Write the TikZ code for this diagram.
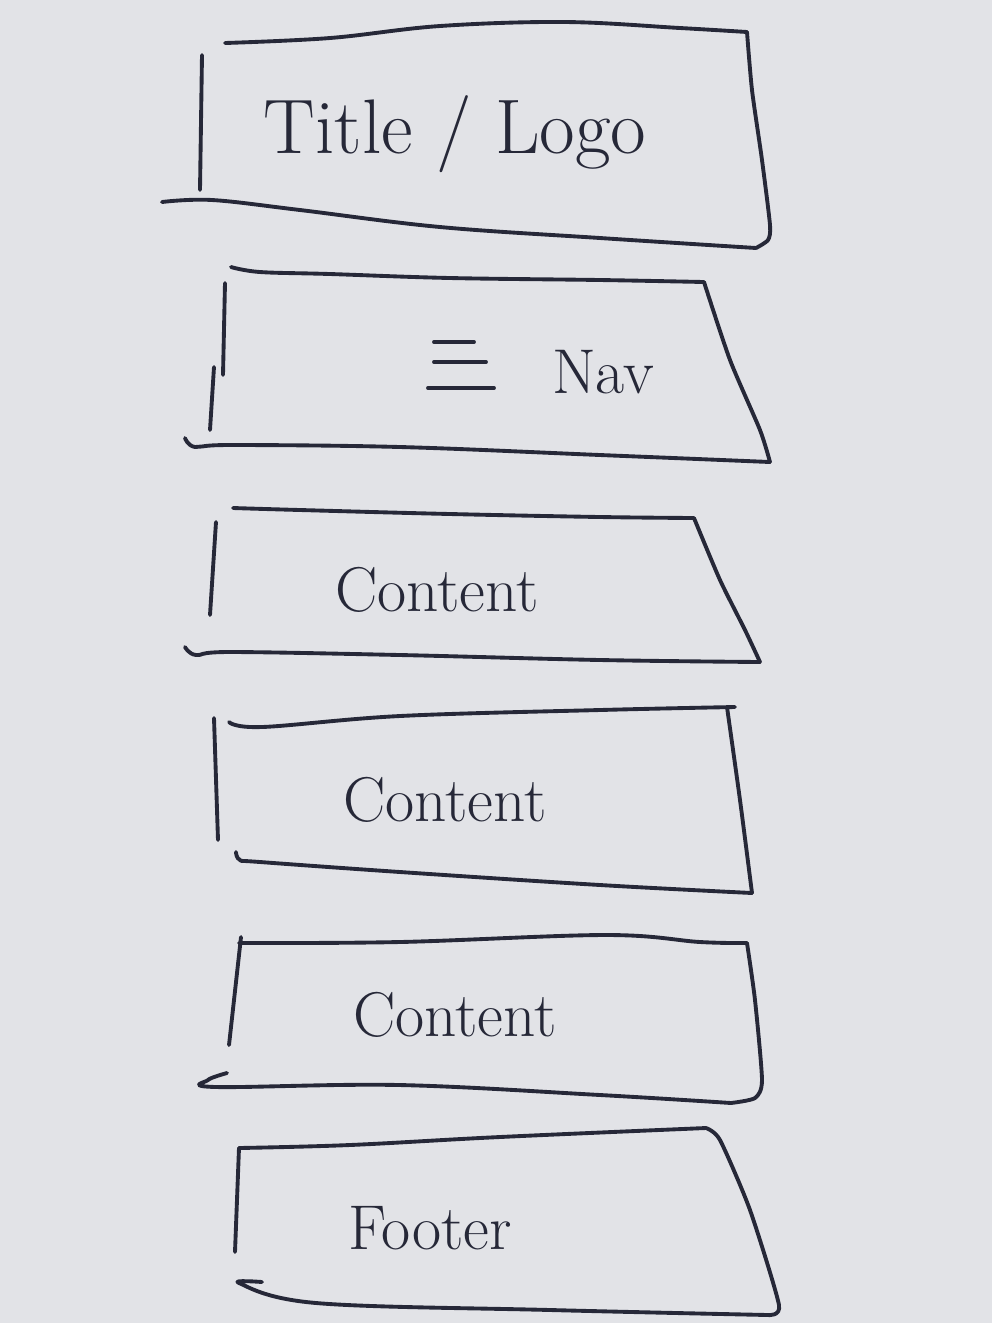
\documentclass[tikz,border=0pt]{standalone}
\usepackage{tikz}
\usetikzlibrary{positioning}
\definecolor{paper}{RGB}{226,227,231}
\definecolor{pen}{RGB}{38,40,56}

\begin{document}
\begin{tikzpicture}[x=0.01cm, y=-0.01cm,
        ink/.style={draw=pen, line width=1.1pt, line cap=round, line join=round},
        scrawl/.style={text=pen, font=\fontsize{18}{22}\selectfont}]
    \fill [paper] (0,0) rectangle (992,1323);
    \useasboundingbox (0,0) rectangle (992,1323);

    % title / logo
    \draw [ink] plot [smooth, tension=.6] coordinates {(225,43) (330,38) (440,26) (565,22) (680,28) (747,32)};
    \draw [ink] plot [smooth, tension=.4] coordinates {(747,32) (752,90) (762,160) (770,225) (768,240) (756,248)};
    \draw [ink] plot [smooth, tension=.6] coordinates {(756,248) (600,238) (440,227) (300,210) (212,200) (162,202)};
    \draw [ink] (202,55) -- (200,190);
    \node (title) [scrawl, font=\fontsize{22}{26}\selectfont] at (455,134) {Title / Logo};

    % nav
    \draw [ink] plot [smooth, tension=.6] coordinates {(231,267) (260,272) (330,274) (450,278) (600,280) (704,282)};
    \draw [ink] plot [smooth, tension=.4] coordinates {(704,282) (730,360) (760,430) (770,462)};
    \draw [ink] plot [smooth, tension=.6] coordinates {(770,462) (600,455) (400,447) (230,445) (195,447) (185,438)};
    \draw [ink] (225,283) -- (223,375);
    \draw [ink] (214,367) -- (210,430);
    \draw [ink] (434,342) -- (474,342);
    \draw [ink] (434,362) -- (486,362);
    \draw [ink] (428,388) -- (494,388);
    \node (nav) [scrawl] at (603,372) {Nav};

    % content 1
    \draw [ink] plot [smooth, tension=.6] coordinates {(233,508) (300,510) (450,514) (600,517) (694,518)};
    \draw [ink] plot [smooth, tension=.4] coordinates {(694,518) (720,580) (745,630) (760,662)};
    \draw [ink] plot [smooth, tension=.6] coordinates {(760,662) (600,660) (400,655) (230,652) (196,655) (185,647)};
    \draw [ink] (216,522) -- (210,615);
    \node (content1) [scrawl] at (437,590) {Content};

    % content 2
    \draw [ink] plot [smooth, tension=.6] coordinates {(229,722) (262,727) (400,716) (600,710) (735,707)};
    \draw [ink] plot [smooth, tension=.4] coordinates {(727,707) (740,800) (752,893)};
    \draw [ink] plot [smooth, tension=.6] coordinates {(752,893) (600,885) (400,872) (260,862) (240,860) (236,852)};
    \draw [ink] (214,718) -- (218,840);
    \node (content2) [scrawl] at (445,800) {Content};

    % content 3
    \draw [ink] plot [smooth, tension=.6] coordinates {(239,943) (400,942) (606,935) (700,942) (747,943)};
    \draw [ink] plot [smooth, tension=.4] coordinates {(747,943) (755,1000) (762,1080) (755,1098) (731,1103)};
    \draw [ink] plot [smooth, tension=.6] coordinates {(731,1103) (600,1095) (399,1085) (216,1087) (208,1080) (227,1073)};
    \draw [ink] (241,937) -- (229,1045);
    \node (content3) [scrawl] at (455,1015) {Content};

    % footer
    \draw [ink] plot [smooth, tension=.6] coordinates {(239,1148) (350,1145) (500,1137) (706,1128)};
    \draw [ink] plot [smooth, tension=.4] coordinates {(706,1128) (720,1140) (750,1210) (779,1305) (768,1315)};
    \draw [ink] plot [smooth, tension=.6] coordinates {(768,1315) (550,1310) (316,1303) (239,1283) (262,1282)};
    \draw [ink] (239,1148) -- (235,1252);
    \node (footer) [scrawl] at (430,1228) {Footer};
\end{tikzpicture}
\end{document}
